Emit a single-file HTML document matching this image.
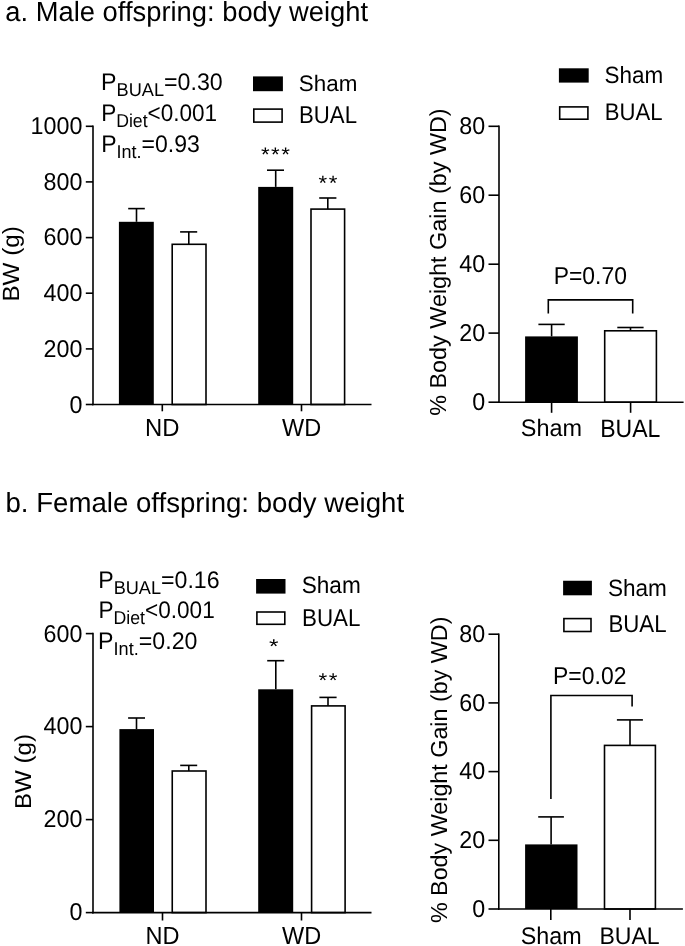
<!DOCTYPE html>
<html><head><meta charset="utf-8"><style>
html,body{margin:0;padding:0;background:#fff;}
body{width:685px;height:946px;overflow:hidden;}
svg{display:block;font-family:"Liberation Sans", sans-serif;will-change:transform;}
text{fill:#000;stroke:none;text-rendering:geometricPrecision;}
</style></head><body>
<svg width="685" height="946" viewBox="0 0 685 946">
<rect width="685" height="946" fill="#fff"/>
<g stroke="#000" fill="none"><line x1="93" y1="125.5" x2="93" y2="405.3" stroke-width="1.6"/>
<line x1="85.8" y1="404.5" x2="93" y2="404.5" stroke-width="1.6"/>
<line x1="85.8" y1="348.9" x2="93" y2="348.9" stroke-width="1.6"/>
<line x1="85.8" y1="293.2" x2="93" y2="293.2" stroke-width="1.6"/>
<line x1="85.8" y1="237.6" x2="93" y2="237.6" stroke-width="1.6"/>
<line x1="85.8" y1="181.9" x2="93" y2="181.9" stroke-width="1.6"/>
<line x1="85.8" y1="126.3" x2="93" y2="126.3" stroke-width="1.6"/>
<line x1="136.5" y1="221.8" x2="136.5" y2="208.6" stroke-width="1.6"/>
<line x1="128.2" y1="208.6" x2="144.8" y2="208.6" stroke-width="1.6"/>
<rect x="118.9" y="221.8" width="34.9" height="182.7" fill="#000" stroke="none"/>
<line x1="188.8" y1="244.3" x2="188.8" y2="231.9" stroke-width="1.6"/>
<line x1="180.1" y1="231.9" x2="197.2" y2="231.9" stroke-width="1.6"/>
<rect x="172.2" y="244.3" width="33.8" height="160.2" fill="#fff" stroke-width="1.6"/>
<line x1="275.7" y1="186.9" x2="275.7" y2="170.2" stroke-width="1.6"/>
<line x1="267.0" y1="170.2" x2="284.0" y2="170.2" stroke-width="1.6"/>
<rect x="258.2" y="186.9" width="35.0" height="217.6" fill="#000" stroke="none"/>
<line x1="327.8" y1="209.1" x2="327.8" y2="198.0" stroke-width="1.6"/>
<line x1="319.2" y1="198.0" x2="336.4" y2="198.0" stroke-width="1.6"/>
<rect x="311.0" y="209.1" width="33.6" height="195.4" fill="#fff" stroke-width="1.6"/>
<line x1="92.2" y1="404.5" x2="371.5" y2="404.5" stroke-width="1.6"/>
<line x1="162.3" y1="404.5" x2="162.3" y2="411.3" stroke-width="1.6"/>
<line x1="301.5" y1="404.5" x2="301.5" y2="411.3" stroke-width="1.6"/>
<rect x="253" y="76.4" width="29.9" height="14.8" fill="#000" stroke="none"/>
<rect x="253.8" y="109.1" width="28.3" height="13.0" fill="#fff" stroke-width="1.6"/>
<line x1="499" y1="125.5" x2="499" y2="403.0" stroke-width="1.6"/>
<line x1="488.5" y1="402.2" x2="499" y2="402.2" stroke-width="1.6"/>
<line x1="488.5" y1="333.1" x2="499" y2="333.1" stroke-width="1.6"/>
<line x1="488.5" y1="264.2" x2="499" y2="264.2" stroke-width="1.6"/>
<line x1="488.5" y1="195.2" x2="499" y2="195.2" stroke-width="1.6"/>
<line x1="488.5" y1="126.3" x2="499" y2="126.3" stroke-width="1.6"/>
<line x1="551.6" y1="336.4" x2="551.6" y2="324.4" stroke-width="1.6"/>
<line x1="538.4" y1="324.4" x2="564.7" y2="324.4" stroke-width="1.6"/>
<rect x="525.1" y="336.4" width="52.8" height="65.8" fill="#000" stroke="none"/>
<line x1="630.5" y1="330.8" x2="630.5" y2="327.5" stroke-width="1.6"/>
<line x1="617.3" y1="327.5" x2="643.6" y2="327.5" stroke-width="1.6"/>
<rect x="604.7" y="330.8" width="51.7" height="71.4" fill="#fff" stroke-width="1.6"/>
<line x1="498.2" y1="402.2" x2="683.6" y2="402.2" stroke-width="1.6"/>
<line x1="551.6" y1="402.2" x2="551.6" y2="412.8" stroke-width="1.6"/>
<line x1="630.6" y1="402.2" x2="630.6" y2="412.8" stroke-width="1.6"/>
<polyline points="548.3,313.4 548.3,299.9 632.7,299.9 632.7,313.4" fill="none" stroke-width="1.6"/>
<rect x="558.9" y="68.3" width="29.8" height="14.3" fill="#000" stroke="none"/>
<rect x="559.7" y="106.9" width="28.2" height="12.3" fill="#fff" stroke-width="1.6"/>
<line x1="93" y1="632.8000000000001" x2="93" y2="913.4" stroke-width="1.6"/>
<line x1="85.8" y1="912.6" x2="93" y2="912.6" stroke-width="1.6"/>
<line x1="85.8" y1="819.6" x2="93" y2="819.6" stroke-width="1.6"/>
<line x1="85.8" y1="726.6" x2="93" y2="726.6" stroke-width="1.6"/>
<line x1="85.8" y1="633.6" x2="93" y2="633.6" stroke-width="1.6"/>
<line x1="136.5" y1="729.1" x2="136.5" y2="718.0" stroke-width="1.6"/>
<line x1="128.1" y1="718.0" x2="145.0" y2="718.0" stroke-width="1.6"/>
<rect x="119.4" y="729.1" width="34.6" height="183.5" fill="#000" stroke="none"/>
<line x1="188.8" y1="771.0" x2="188.8" y2="765.4" stroke-width="1.6"/>
<line x1="180.2" y1="765.4" x2="197.2" y2="765.4" stroke-width="1.6"/>
<rect x="172.25" y="771.0" width="33.75" height="141.6" fill="#fff" stroke-width="1.6"/>
<line x1="275.8" y1="689.3" x2="275.8" y2="660.7" stroke-width="1.6"/>
<line x1="267.2" y1="660.7" x2="284.2" y2="660.7" stroke-width="1.6"/>
<rect x="258.2" y="689.3" width="35.0" height="223.3" fill="#000" stroke="none"/>
<line x1="328.0" y1="705.9" x2="328.0" y2="697.4" stroke-width="1.6"/>
<line x1="319.4" y1="697.4" x2="336.6" y2="697.4" stroke-width="1.6"/>
<rect x="311.6" y="705.9" width="33.5" height="206.7" fill="#fff" stroke-width="1.6"/>
<line x1="92.2" y1="912.6" x2="371.5" y2="912.6" stroke-width="1.6"/>
<line x1="162.5" y1="912.6" x2="162.5" y2="920.5" stroke-width="1.6"/>
<line x1="301.5" y1="912.6" x2="301.5" y2="920.5" stroke-width="1.6"/>
<rect x="256.1" y="579.0" width="29.4" height="14.6" fill="#000" stroke="none"/>
<rect x="256.9" y="612.0" width="27.9" height="12.3" fill="#fff" stroke-width="1.6"/>
<line x1="498.8" y1="633.4000000000001" x2="498.8" y2="909.8" stroke-width="1.6"/>
<line x1="488.5" y1="909.0" x2="498.8" y2="909.0" stroke-width="1.6"/>
<line x1="488.5" y1="840.3" x2="498.8" y2="840.3" stroke-width="1.6"/>
<line x1="488.5" y1="771.6" x2="498.8" y2="771.6" stroke-width="1.6"/>
<line x1="488.5" y1="702.9" x2="498.8" y2="702.9" stroke-width="1.6"/>
<line x1="488.5" y1="634.2" x2="498.8" y2="634.2" stroke-width="1.6"/>
<line x1="551.1" y1="844.4" x2="551.1" y2="816.9" stroke-width="1.6"/>
<line x1="538.2" y1="816.9" x2="563.9" y2="816.9" stroke-width="1.6"/>
<rect x="525.1" y="844.4" width="52.4" height="64.6" fill="#000" stroke="none"/>
<line x1="630.0" y1="745.4" x2="630.0" y2="719.9" stroke-width="1.6"/>
<line x1="616.9" y1="719.9" x2="642.9" y2="719.9" stroke-width="1.6"/>
<rect x="604.5" y="745.4" width="50.9" height="163.6" fill="#fff" stroke-width="1.6"/>
<line x1="498.0" y1="909.0" x2="682.9" y2="909.0" stroke-width="1.6"/>
<line x1="550.8" y1="909.0" x2="550.8" y2="920" stroke-width="1.6"/>
<line x1="630.0" y1="909.0" x2="630.0" y2="920" stroke-width="1.6"/>
<polyline points="550.9,799 550.9,695.5 632.1,695.5 632.1,706.6" fill="none" stroke-width="1.6"/>
<rect x="563.1" y="580.75" width="28.8" height="14.55" fill="#000" stroke="none"/>
<rect x="563.9" y="618.6" width="27.1" height="12.9" fill="#fff" stroke-width="1.6"/></g>
<g class="t"><g transform="matrix(1.0019 0 0 1.0174 -0.708 -0.884)"><text x="6" y="22" font-size="27.3" text-anchor="start">a. Male offspring: body weight</text></g>
<g transform="matrix(1.0116 0 0 1.0151 -1.577 -7.610)"><text x="7" y="512.1" font-size="27.3" text-anchor="start">b. Female offspring: body weight</text></g>
<g transform="matrix(1.0350 0 0 1.0878 -1.783 -36.066)"><text x="81.3" y="412.5" font-size="22.5" text-anchor="end">0</text></g>
<g transform="matrix(1.0350 0 0 1.0817 -1.783 -28.788)"><text x="81.3" y="356.9" font-size="22.5" text-anchor="end">200</text></g>
<g transform="matrix(1.0350 0 0 1.0817 -1.783 -24.315)"><text x="81.3" y="301.2" font-size="22.5" text-anchor="end">400</text></g>
<g transform="matrix(1.0350 0 0 1.0797 -1.775 -20.152)"><text x="81.3" y="245.6" font-size="22.5" text-anchor="end">600</text></g>
<g transform="matrix(1.0350 0 0 1.0817 -1.783 -15.150)"><text x="81.3" y="189.9" font-size="22.5" text-anchor="end">800</text></g>
<g transform="matrix(1.0350 0 0 1.0817 -1.783 -11.376)"><text x="81.3" y="134.3" font-size="22.5" text-anchor="end">1000</text></g>
<g transform="matrix(1.0606 0 0 1.1007 -10.088 -43.207)"><text x="162.5" y="435.5" font-size="22.5" text-anchor="middle">ND</text></g>
<g transform="matrix(1.0441 0 0 1.1007 -13.242 -43.207)"><text x="301.5" y="435.5" font-size="22.5" text-anchor="middle">WD</text></g>
<g transform="matrix(1.0201 0 0 1.0560 -0.742 -14.121)"><text transform="translate(19.3,263.2) rotate(-90)" font-size="23" text-anchor="middle">BW (g)</text></g>
<g transform="matrix(1.0092 0 0 1.0400 -2.660 -3.704)"><text x="102.8" y="90.1" font-size="23" text-anchor="start">P<tspan font-size="18" dy="5.8">BUAL</tspan><tspan dy="-5.8">=0.30</tspan></text></g>
<g transform="matrix(0.9801 0 0 1.0400 0.378 -5.048)"><text x="102.8" y="121.2" font-size="23" text-anchor="start">P<tspan font-size="18" dy="5.8">Diet</tspan><tspan dy="-5.8">&lt;0.001</tspan></text></g>
<g transform="matrix(1.0010 0 0 1.0400 -1.766 -6.692)"><text x="102.8" y="152.3" font-size="23" text-anchor="start">P<tspan font-size="18" dy="5.8">Int.</tspan><tspan dy="-5.8">=0.93</tspan></text></g>
<g transform="matrix(1.0187 0 0 1.0196 -6.861 -1.931)"><text x="300" y="90.9" font-size="22" text-anchor="start">Sham</text></g>
<g transform="matrix(1.0082 0 0 1.1047 -3.401 -11.939)"><text x="300" y="122.5" font-size="22" text-anchor="start">BUAL</text></g>
<g transform="matrix(1.0160 0 0 0.8917 -4.455 15.346)"><text x="275.5" y="163" font-size="22" text-anchor="middle"><tspan letter-spacing="1.5">**</tspan>*</text></g>
<g transform="matrix(1.0091 0 0 0.9408 -2.669 8.983)"><text x="327.7" y="192" font-size="22" text-anchor="middle"><tspan letter-spacing="1.5">*</tspan>*</text></g>
<g transform="matrix(1.0350 0 0 1.0873 -15.941 -35.507)"><text x="484.2" y="410.2" font-size="22.5" text-anchor="end">0</text></g>
<g transform="matrix(1.0350 0 0 1.0825 -15.933 -28.141)"><text x="484.2" y="341.1" font-size="22.5" text-anchor="end">20</text></g>
<g transform="matrix(1.0350 0 0 1.0873 -15.941 -23.453)"><text x="484.2" y="272.2" font-size="22.5" text-anchor="end">40</text></g>
<g transform="matrix(1.0350 0 0 1.0844 -15.941 -16.859)"><text x="484.2" y="203.2" font-size="22.5" text-anchor="end">60</text></g>
<g transform="matrix(1.0350 0 0 1.0770 -15.925 -10.807)"><text x="484.2" y="134.3" font-size="22.5" text-anchor="end">80</text></g>
<g transform="matrix(1.0417 0 0 1.0607 -22.698 -25.933)"><text x="551.2" y="435.9" font-size="22.5" text-anchor="middle">Sham</text></g>
<g transform="matrix(1.0247 0 0 1.1202 -15.958 -51.775)"><text x="630.7" y="435.9" font-size="22.5" text-anchor="middle">BUAL</text></g>
<g transform="matrix(1.0166 0 0 1.0865 -10.307 -24.322)"><text x="590.8" y="283.8" font-size="22.5" text-anchor="middle">P=0.70</text></g>
<g transform="matrix(1.0513 0 0 1.0624 -23.704 -17.024)"><text transform="translate(447.2,262.7) rotate(-90)" font-size="22" text-anchor="middle">% Body Weight Gain (by WD)</text></g>
<g transform="matrix(1.0213 0 0 1.0687 -14.085 -5.570)"><text x="605.7" y="82.6" font-size="22" text-anchor="start">Sham</text></g>
<g transform="matrix(1.0044 0 0 1.0950 -3.588 -11.158)"><text x="605.7" y="120" font-size="22" text-anchor="start">BUAL</text></g>
<g transform="matrix(1.0350 0 0 1.0878 -1.783 -81.389)"><text x="81.3" y="920.6" font-size="22.5" text-anchor="end">0</text></g>
<g transform="matrix(1.0350 0 0 1.0817 -1.783 -68.154)"><text x="81.3" y="827.6" font-size="22.5" text-anchor="end">200</text></g>
<g transform="matrix(1.0350 0 0 1.0817 -1.783 -60.559)"><text x="81.3" y="734.6" font-size="22.5" text-anchor="end">400</text></g>
<g transform="matrix(1.0350 0 0 1.0797 -1.775 -50.697)"><text x="81.3" y="641.6" font-size="22.5" text-anchor="end">600</text></g>
<g transform="matrix(1.0472 0 0 1.0975 -7.677 -91.513)"><text x="162.5" y="943.4" font-size="22.5" text-anchor="middle">ND</text></g>
<g transform="matrix(1.0441 0 0 1.1007 -13.242 -94.258)"><text x="301.5" y="943.4" font-size="22.5" text-anchor="middle">WD</text></g>
<g transform="matrix(1.0000 0 0 1.0502 -0.635 -38.614)"><text transform="translate(31.8,771.4) rotate(-90)" font-size="23" text-anchor="middle">BW (g)</text></g>
<g transform="matrix(1.0068 0 0 1.0400 -2.565 -23.088)"><text x="100.1" y="587.2" font-size="23" text-anchor="start">P<tspan font-size="18" dy="5.8">BUAL</tspan><tspan dy="-5.8">=0.16</tspan></text></g>
<g transform="matrix(0.9823 0 0 1.0400 0.140 -24.512)"><text x="100.1" y="617.8" font-size="23" text-anchor="start">P<tspan font-size="18" dy="5.8">Diet</tspan><tspan dy="-5.8">&lt;0.001</tspan></text></g>
<g transform="matrix(1.0077 0 0 1.0400 -2.750 -25.632)"><text x="100.1" y="648.3" font-size="23" text-anchor="start">P<tspan font-size="18" dy="5.8">Int.</tspan><tspan dy="-5.8">=0.20</tspan></text></g>
<g transform="matrix(1.0279 0 0 1.0694 -9.796 -41.507)"><text x="303" y="593.5" font-size="22" text-anchor="start">Sham</text></g>
<g transform="matrix(1.0170 0 0 1.1050 -6.113 -65.146)"><text x="303" y="625.3" font-size="22" text-anchor="start">BUAL</text></g>
<g transform="matrix(1.1083 0 0 0.9064 -29.768 58.201)"><text x="273.8" y="656" font-size="22" text-anchor="middle">*</text></g>
<g transform="matrix(1.0191 0 0 0.9011 -6.372 65.454)"><text x="328" y="690" font-size="22" text-anchor="middle"><tspan letter-spacing="1.5">*</tspan>*</text></g>
<g transform="matrix(1.0350 0 0 1.0873 -15.941 -80.391)"><text x="484.2" y="917.0" font-size="22.5" text-anchor="end">0</text></g>
<g transform="matrix(1.0350 0 0 1.0825 -15.933 -70.384)"><text x="484.2" y="848.3" font-size="22.5" text-anchor="end">20</text></g>
<g transform="matrix(1.0350 0 0 1.0873 -15.941 -68.625)"><text x="484.2" y="779.6" font-size="22.5" text-anchor="end">40</text></g>
<g transform="matrix(1.0350 0 0 1.0844 -15.941 -59.627)"><text x="484.2" y="710.9" font-size="22.5" text-anchor="end">60</text></g>
<g transform="matrix(1.0350 0 0 1.0770 -15.925 -49.245)"><text x="484.2" y="642.2" font-size="22.5" text-anchor="end">80</text></g>
<g transform="matrix(1.0366 0 0 1.0676 -20.211 -62.842)"><text x="551.2" y="942.9" font-size="22.5" text-anchor="middle">Sham</text></g>
<g transform="matrix(1.0260 0 0 1.0643 -17.542 -59.764)"><text x="630.7" y="942.9" font-size="22.5" text-anchor="middle">BUAL</text></g>
<g transform="matrix(1.0198 0 0 1.0839 -11.950 -57.061)"><text x="590" y="683.6" font-size="22.5" text-anchor="middle">P=0.02</text></g>
<g transform="matrix(1.0513 0 0 1.0593 -23.704 -45.915)"><text transform="translate(447.3,770.1) rotate(-90)" font-size="22" text-anchor="middle">% Body Weight Gain (by WD)</text></g>
<g transform="matrix(1.0258 0 0 1.0744 -16.774 -43.955)"><text x="609" y="595.2" font-size="22" text-anchor="start">Sham</text></g>
<g transform="matrix(1.0107 0 0 1.1027 -7.046 -65.147)"><text x="609" y="632.4" font-size="22" text-anchor="start">BUAL</text></g></g>
</svg>
</body></html>
